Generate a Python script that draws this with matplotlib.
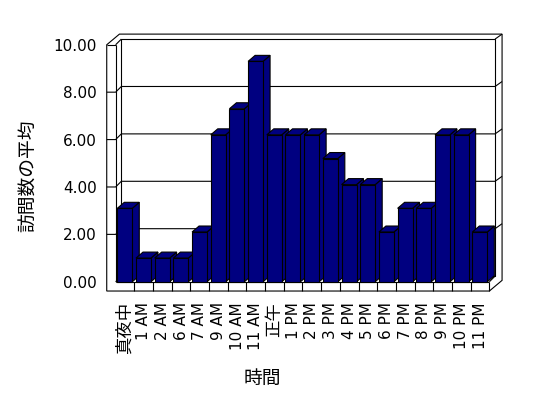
import matplotlib.pyplot as plt
import numpy as np
from matplotlib.patches import Polygon

# 時間帯ごとの訪問数の平均
hours = ["真夜中", "1 AM", "2 AM", "6 AM", "7 AM", "9 AM", "10 AM", "11 AM", "正午",
         "1 PM", "2 PM", "3 PM", "4 PM", "5 PM", "6 PM", "7 PM", "8 PM", "9 PM",
         "10 PM", "11 PM"]
visits = [3.1, 1.0, 1.0, 1.0, 2.1, 6.2, 7.3, 9.3, 6.2, 6.2, 6.2, 5.2, 4.1, 4.1,
          2.1, 3.1, 3.1, 6.2, 6.2, 2.1]
y_ticks = [0, 2, 4, 6, 8, 10]

plt.rcParams['font.family'] = ['DejaVu Sans', 'Noto Sans CJK JP']

fig = plt.figure(figsize=(5.48, 3.98), dpi=100)
ax = fig.add_axes([0.211, 0.292, 0.682, 0.5955])
n = len(hours)
ymax = y_ticks[-1]
ax.set_xlim(0, n)
ax.set_ylim(0, ymax)

# fake 3D offsets, in data units
DX, DY = 0.305, 0.24    # wall depth
TX, TY = 0.375, 0.21    # back wall thickness
LW, FT = 0.476, 0.39    # left wall / floor thickness
BX, BY = 0.375, 0.253   # bar depth
LINE_W = 0.8


def line(xs, ys, z=2):
    ax.plot(xs, ys, color="black", lw=LINE_W, clip_on=False, zorder=z,
            solid_capstyle="butt")


# outline of walls + floor
outline = [(-LW, -FT), (n, -FT), (n + DX + TX, -FT + DY + TY),
           (n + DX + TX, ymax + DY + TY), (-LW + DX + TX, ymax + DY + TY),
           (-LW, ymax)]
ax.add_patch(Polygon(outline, closed=True, fc="white", ec="black", lw=LINE_W,
                     clip_on=False, zorder=1))

# back wall face
line([DX, n + DX, n + DX, DX, DX], [DY, DY, ymax + DY, ymax + DY, DY])
line([n + DX, n + DX + TX], [ymax + DY, ymax + DY + TY])
# left wall
line([0, 0], [0, ymax])
line([-LW, 0], [ymax, ymax])
line([0, DX], [ymax, ymax + DY])
line([0, DX], [0, DY])
# floor
line([0, n], [0, 0])
line([n, n], [-FT, 0])
line([n, n + DX], [0, DY])
for i in range(1, n):
    line([i, i], [-FT, 0])

# gridlines
for v in y_ticks[1:-1]:
    line([-LW, 0, DX, n + DX, n + DX + TX],
         [v, v, v + DY, v + DY, v + DY + TY])

# bars
bar_color = "#000080"
for i, v in enumerate(visits):
    x0 = i + 0.09
    x1 = x0 + 0.8
    z = 3 + i * 0.01
    side = [(x1, 0), (x1 + BX, BY), (x1 + BX, v + BY), (x1, v)]
    top = [(x0, v), (x1, v), (x1 + BX, v + BY), (x0 + BX, v + BY)]
    front = [(x0, 0), (x1, 0), (x1, v), (x0, v)]
    for pts in (side, top, front):
        ax.add_patch(Polygon(pts, closed=True, fc=bar_color, ec="black",
                             lw=LINE_W, clip_on=False, zorder=z))

for s in ax.spines.values():
    s.set_visible(False)
ax.patch.set_visible(False)

ax.set_xticks(np.arange(n) + 0.5, hours, rotation=90)
ax.tick_params(axis="x", length=0, pad=14.6, labelsize=11)
for lab in ax.get_xticklabels():
    if not any(c.isascii() for c in lab.get_text()):
        lab.set_fontsize(12.5)
ax.set_yticks(y_ticks, [f"{v:.2f}" for v in y_ticks])
ax.tick_params(axis="y", length=0, pad=13.6, labelsize=11)

ax.set_xlabel("時間", fontsize=13.5)
ax.xaxis.set_label_coords(0.392, -0.37)
ax.set_ylabel("訪問数の平均", fontsize=13.5)
ax.yaxis.set_label_coords(-0.207, 0.448)

fig.savefig("out.png", dpi=100)
